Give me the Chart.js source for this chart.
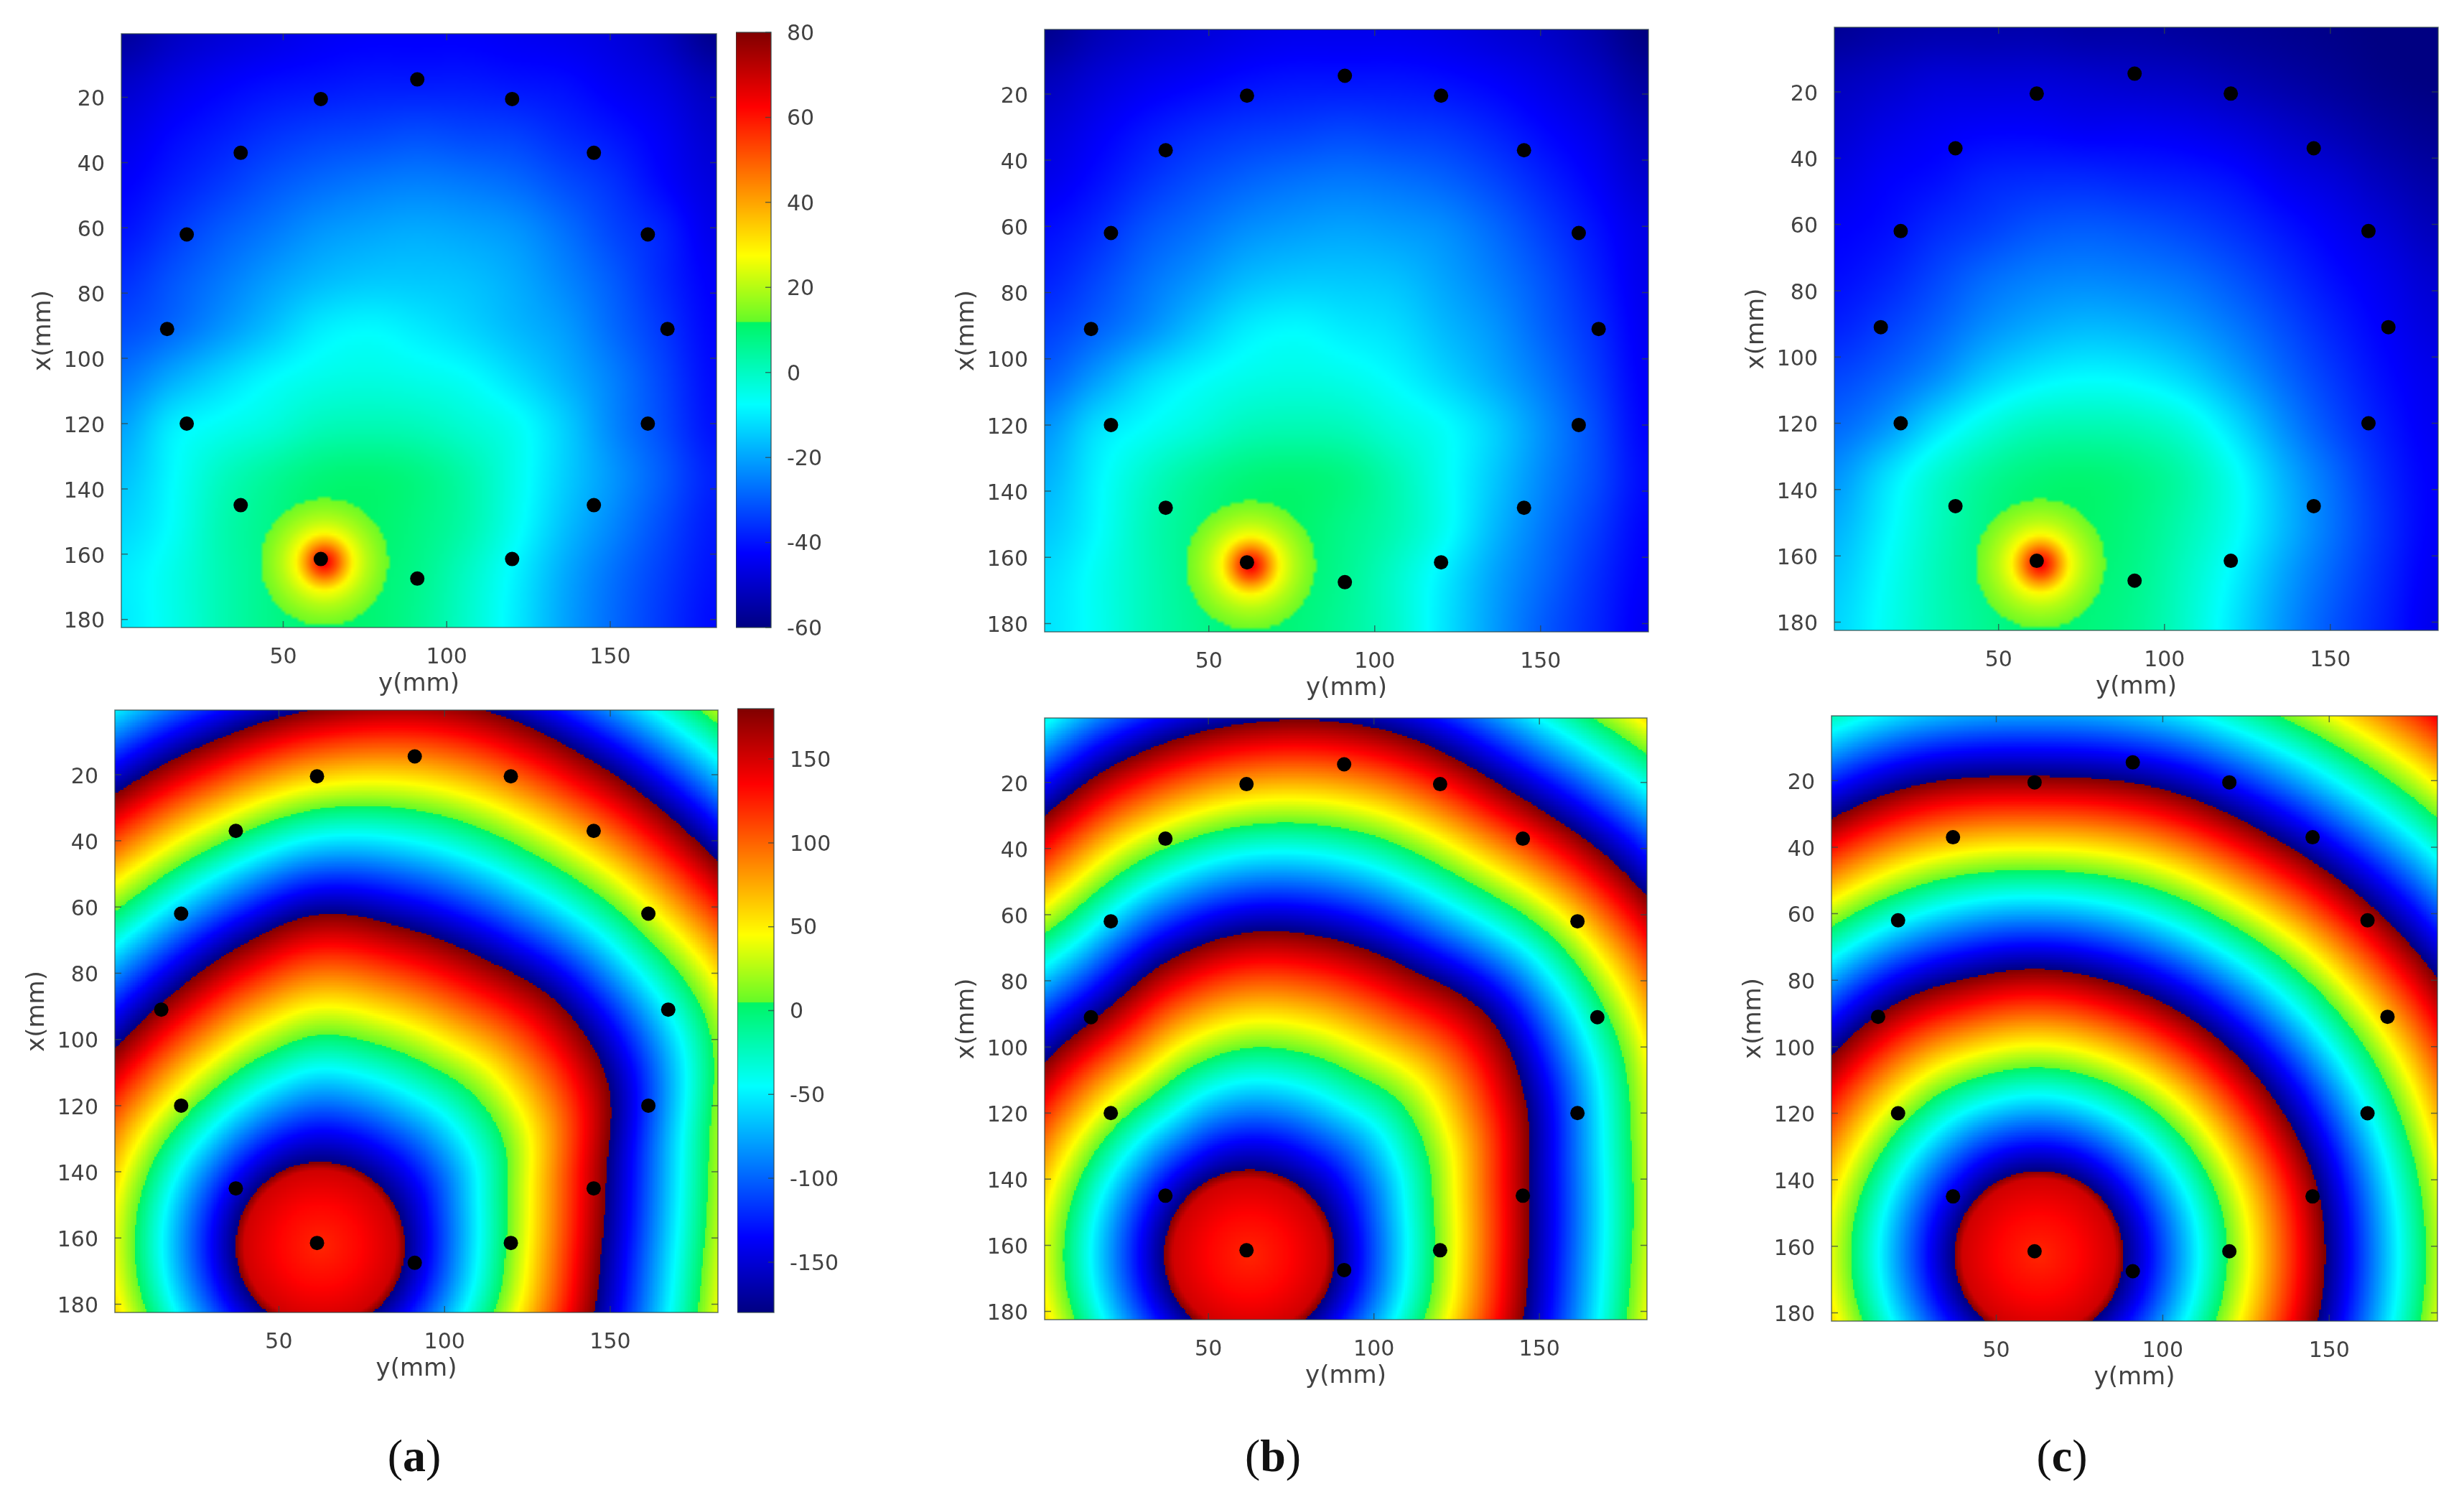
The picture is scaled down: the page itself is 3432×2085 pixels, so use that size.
<!DOCTYPE html>
<html>
<head>
<meta charset="utf-8">
<title>Amplitude and phase maps</title>
<script src="https://cdn.jsdelivr.net/npm/chart.js@4/dist/chart.umd.js"></script>
<style>
  html, body { margin: 0; padding: 0; background: #fff; }
  #page { position: relative; width: 3432px; height: 2085px; overflow: hidden; }
  #page canvas { position: absolute; }
  .tag { position: absolute; top: 1990px; width: 200px; text-align: center; color: #111;
         font: 64px "Liberation Serif", serif; line-height: 76px; }
</style>
</head>
<body>
<div id="page"></div>
<script>
// sensors as [y, x] in mm
const sensorY = [91, 61.5, 120, 37, 145, 20.5, 161.5, 14.5, 167.5, 20.5, 161.5, 37, 145, 61.5, 120, 91];
const sensorX = [14.5, 20.5, 20.5, 37, 37, 62, 62, 91, 91, 120, 120, 145, 145, 161.5, 161.5, 167.5];

const ticksY = [50, 100, 150];
const ticksX = [20, 40, 60, 80, 100, 120, 140, 160, 180];
const ticksAmpBar = [-60, -40, -20, 0, 20, 40, 60, 80];
const ticksPhaseBar = [-150, -100, -50, 0, 50, 100, 150];

// amplitude (top row), dB at grid nodes: rows are x, columns are y
const ampNodes = [1, 16, 31, 46, 61, 76, 91, 106, 121, 136, 151, 166, 181];
const ampA = [
  [-56,-51,-48,-46,-44,-43,-43,-43,-44,-45,-47,-51,-58],
  [-50,-46,-43,-41,-40,-39,-39,-39,-40,-41,-44,-47,-52],
  [-46,-42,-39,-36,-34,-33,-32,-33,-34,-37,-40,-44,-49],
  [-43,-39,-35,-31,-28,-26,-25,-26,-28,-32,-36,-42,-47],
  [-40,-35,-30,-26,-22,-20,-19,-20,-22,-27,-33,-38,-45],
  [-36,-31,-26,-21,-17,-15,-15,-16,-19,-24,-30,-37,-43],
  [-32,-28,-22,-16,-10,-8,-10,-13,-17,-21,-28,-35,-42],
  [-26,-19,-13,-8,-5,-4,-5,-7,-12,-18,-25,-33,-41],
  [-20,-10,-6,-3,1,2,1,-2,-6,-14,-24,-32,-40],
  [-16,-8,0,5,9,10,8,3,-5,-14,-22,-30,-38],
  [-13,-7,2,7,11,11,8,3,-6,-16,-24,-32,-39],
  [-10,-5,2,7,11,10,7,0,-9,-19,-27,-34,-40],
  [-10,-5,2,7,10,10,6,-1,-10,-20,-28,-35,-41]
];
const ampB = [
  [-58,-53,-50,-48,-46,-45,-45,-45,-46,-48,-50,-54,-60],
  [-52,-48,-45,-43,-41,-40,-40,-40,-41,-43,-46,-50,-56],
  [-48,-44,-40,-37,-35,-34,-33,-34,-35,-38,-42,-46,-52],
  [-45,-41,-36,-32,-29,-27,-26,-27,-29,-33,-38,-43,-49],
  [-41,-37,-31,-27,-23,-21,-20,-21,-23,-28,-34,-40,-46],
  [-38,-33,-27,-22,-17,-15,-15,-16,-20,-25,-31,-38,-45],
  [-34,-29,-23,-16,-10,-8,-10,-12,-17,-22,-29,-36,-44],
  [-29,-21,-13,-8,-5,-4,-5,-8,-13,-19,-26,-34,-43],
  [-22,-12,-7,-3,1,2,1,-3,-7,-14,-23,-32,-42],
  [-18,-9,-1,5,9,10,8,2,-6,-15,-24,-32,-41],
  [-15,-8,1,7,11,11,7,2,-6,-17,-26,-34,-42],
  [-12,-6,1,7,11,10,6,-1,-10,-20,-28,-36,-43],
  [-11,-6,1,6,10,9,5,-1,-11,-21,-30,-37,-44]
];
const ampC = [
  [-57,-55,-54,-54,-54,-55,-55,-56,-57,-58,-59,-60,-60],
  [-52,-50,-48,-48,-48,-49,-50,-51,-53,-55,-57,-59,-60],
  [-49,-46,-44,-43,-43,-44,-44,-45,-47,-50,-53,-56,-58],
  [-46,-43,-41,-38,-37,-37,-38,-39,-41,-45,-48,-52,-55],
  [-43,-41,-37,-34,-31,-30,-31,-33,-36,-40,-44,-48,-52],
  [-41,-38,-33,-28,-25,-24,-25,-27,-31,-36,-41,-45,-49],
  [-38,-34,-29,-23,-19,-17,-18,-21,-26,-32,-38,-43,-47],
  [-33,-29,-23,-15,-10,-8,-9,-13,-20,-28,-35,-41,-45],
  [-28,-22,-12,-4,1,2,1,-3,-12,-23,-32,-39,-44],
  [-22,-12,-2,5,9,10,8,3,-6,-18,-28,-37,-43],
  [-18,-9,0,7,11,11,8,2,-6,-17,-27,-36,-43],
  [-15,-7,1,7,11,10,7,0,-9,-20,-29,-37,-44],
  [-13,-6,1,6,10,9,6,-1,-11,-22,-31,-38,-45]
];

// hot spot around the source, dB against distance in mm
const peakCentre = [62.6, 162.4];
const peakRadii = [0, 4, 6, 9, 13, 17, 19.5, 19.6];
const peakDb = [66, 50, 40, 27, 20, 15, 12.6, 0];

// phase (bottom row): along each ray from the source, the radius in mm where
// the unwrapped phase reaches each of phaseLevels. 0 deg points to +y, 90 deg to -x
const rayAngles = [0, 15, 30, 45, 60, 75, 90, 105, 120, 135, 150, 165, 180, 195, 210, 225, 240, 255, 270, 285, 300, 315, 330, 345];
const coreRadii = [0, 12, 23];
const corePhase = [122, 134, 152];
const phaseLevels = [180, 540, 900, 1260];

const sourceA = [62.5, 162.5];
const ringsA = [
  [25.5,25.5,25.5,25.5,25.5,25.5,25.5,25.5,25.5,25.5,25.5,25.5,25.5,25.5,25.5,25.5,25.5,25.5,25.5,25.5,25.5,25.5,25.5,25.5],
  [85,89.5,100,102.7,100,99.5,100.3,93.8,88.4,86,86,85.5,85,85,85,85,85,85,85,85,85,85,85,85],
  [145,152,168,167,168,169,162.5,154.5,148,146,146,146,146,145,145,145,145,145,145,145,145,145,145,145],
  [205,212,228,227,228,229,222,214,208,206,206,206,206,205,205,205,205,205,205,205,205,205,205,205]
];
const sourceB = [62.4, 163];
const ringsB = [
  [25.8,25.8,25.8,25.8,25.8,25.8,25.8,25.8,25.8,25.8,25.8,25.8,25.8,25.8,25.8,25.8,25.8,25.8,25.8,25.8,25.8,25.8,25.8,25.8],
  [84.4,87.5,96,102,99.3,98.9,97.6,92.5,86,85,85,85,85,85,85,85,85,85,85,85,85,85,85,85],
  [145,150,160,162,161,164,161,154,144,145,145,145,145,145,145,145,145,145,145,145,145,145,145,145],
  [205,210,222,224,223,226,223,214,204,205,205,205,205,205,205,205,205,205,205,205,205,205,205,205]
];
const sourceC = [62.8, 162.7];
const ringsC = [
  [25.4,25.4,25.4,25.4,25.4,25.4,25.4,25.4,25.4,25.4,25.4,25.4,25.4,25.4,25.4,25.4,25.4,25.4,25.4,25.4,25.4,25.4,25.4,25.4],
  [86,86,85,84.5,84.5,85,86,86,87,86.5,86,86,86,86,86,86,86,86,86,86,86,86,86,86],
  [145,145,146,145,144,145,144,146,145,145,145,145,145,145,145,145,145,145,145,145,145,145,145,145],
  [209,209,209,209,209,209,209,209,209,209,209,209,209,209,209,209,209,209,209,209,209,209,209,209]
];

// colormap of the colorbars: jet with the jump just above the middle
const cmapStops = [0, 0.125, 0.375, 0.513, 0.5135, 0.625, 0.875, 1];
const cmapColors = [[0,0,130],[0,0,255],[0,255,255],[0,245,100],[100,250,40],[255,255,0],[255,0,0],[128,0,0]];

const tickFont = { family: 'DejaVu Sans', size: 30 };
const titleFont = { family: 'DejaVu Sans', size: 34 };
const inkColor = '#424242';
const frameColor = 'rgba(50,70,70,0.75)';

function colorAt(t) {
  t = Math.max(0, Math.min(1, t));
  let i = 0;
  while (i < cmapStops.length - 2 && t > cmapStops[i + 1]) i++;
  const f = (t - cmapStops[i]) / (cmapStops[i + 1] - cmapStops[i]);
  const a = cmapColors[i], b = cmapColors[i + 1];
  return [a[0] + (b[0] - a[0]) * f, a[1] + (b[1] - a[1]) * f, a[2] + (b[2] - a[2]) * f];
}

function lookup(xs, ys, v) {
  let i = 0;
  while (i < xs.length - 2 && v > xs[i + 1]) i++;
  return ys[i] + (ys[i + 1] - ys[i]) * (v - xs[i]) / (xs[i + 1] - xs[i]);
}

function catmull(a, b, c, d, t) {
  return 0.5 * (2 * b + (c - a) * t + (2 * a - 5 * b + 4 * c - d) * t * t + (3 * b - a - 3 * c + d) * t * t * t);
}

// smooth reading of a table between its nodes, like shading interp
function tableAt(table, y, x) {
  const n = ampNodes.length;
  const step = ampNodes[1] - ampNodes[0];
  const u = Math.max(0, Math.min(n - 1.001, (y - ampNodes[0]) / step));
  const v = Math.max(0, Math.min(n - 1.001, (x - ampNodes[0]) / step));
  const iu = Math.floor(u), iv = Math.floor(v);
  const vals = [];
  for (let r = iv - 1; r <= iv + 2; r++) {
    const row = table[Math.max(0, Math.min(n - 1, r))];
    const col = k => row[Math.max(0, Math.min(n - 1, k))];
    vals.push(catmull(col(iu - 1), col(iu), col(iu + 1), col(iu + 2), u - iu));
  }
  return catmull(vals[0], vals[1], vals[2], vals[3], v - iv);
}

function ampAt(table) {
  return (y, x) => {
    // the field stays under the colour jump outside the hot spot
    const base = Math.min(11.5, tableAt(table, y, x));
    const r = Math.hypot(y - peakCentre[0], x - peakCentre[1]);
    const value = r < peakRadii[peakRadii.length - 1] ? Math.max(base, lookup(peakRadii, peakDb, r)) : base;
    return (value + 60) / 140;
  };
}

function phaseAt(source, rings) {
  const n = rayAngles.length;
  return (y, x) => {
    const dx = y - source[0], dy = source[1] - x;
    const r = Math.hypot(dx, dy);
    const deg = (Math.atan2(dy, dx) * 180 / Math.PI + 360) % 360;
    const k = Math.floor(deg / 15) % n;
    const f = deg / 15 - Math.floor(deg / 15);
    const radii = coreRadii.slice();
    const levels = corePhase.slice();
    rings.forEach((ring, i) => {
      radii.push(catmull(ring[(k + n - 1) % n], ring[k], ring[(k + 1) % n], ring[(k + 2) % n], f));
      levels.push(phaseLevels[i]);
    });
    const phase = lookup(radii, levels, r);
    const wrapped = (((phase + 180) % 360) + 360) % 360;
    return wrapped / 360;
  };
}

// draws the map as an image placed through the chart's own scales
function heatPlugin(field, cells, smooth) {
  const off = document.createElement('canvas');
  off.width = cells;
  off.height = cells;
  const octx = off.getContext('2d');
  const img = octx.createImageData(cells, cells);
  const size = 182 / cells;
  for (let j = 0; j < cells; j++) {
    for (let i = 0; i < cells; i++) {
      const c = colorAt(field(0.5 + (i + 0.5) * size, 0.5 + (j + 0.5) * size));
      const p = (j * cells + i) * 4;
      img.data[p] = c[0];
      img.data[p + 1] = c[1];
      img.data[p + 2] = c[2];
      img.data[p + 3] = 255;
    }
  }
  octx.putImageData(img, 0, 0);
  return {
    id: 'heat',
    beforeDatasetsDraw(chart) {
      const ctx = chart.ctx, sx = chart.scales.x, sy = chart.scales.y;
      const left = sx.getPixelForValue(0.5), right = sx.getPixelForValue(182.5);
      const top = sy.getPixelForValue(0.5), bottom = sy.getPixelForValue(182.5);
      ctx.save();
      ctx.imageSmoothingEnabled = smooth;
      ctx.drawImage(off, left, top, right - left, bottom - top);
      ctx.strokeStyle = frameColor;
      ctx.lineWidth = 1.5;
      ctx.strokeRect(left, top, right - left, bottom - top);
      ctx.beginPath();
      sx.ticks.forEach(t => {
        const px = sx.getPixelForValue(t.value);
        ctx.moveTo(px, bottom); ctx.lineTo(px, bottom - 9);
        ctx.moveTo(px, top); ctx.lineTo(px, top + 9);
      });
      sy.ticks.forEach(t => {
        const py = sy.getPixelForValue(t.value);
        ctx.moveTo(left, py); ctx.lineTo(left + 9, py);
        ctx.moveTo(right, py); ctx.lineTo(right - 9, py);
      });
      ctx.stroke();
      ctx.restore();
    }
  };
}

const barPlugin = {
  id: 'bar',
  beforeDatasetsDraw(chart) {
    const ctx = chart.ctx, s = chart.scales.y, a = chart.chartArea;
    ctx.save();
    for (let py = Math.floor(a.top); py < a.bottom; py++) {
      const t = (s.getValueForPixel(py + 0.5) - s.min) / (s.max - s.min);
      const c = colorAt(t);
      ctx.fillStyle = `rgb(${c[0]},${c[1]},${c[2]})`;
      ctx.fillRect(a.left, py, a.right - a.left, 1);
    }
    ctx.strokeStyle = frameColor;
    ctx.lineWidth = 1.5;
    ctx.strokeRect(a.left, a.top, a.right - a.left, a.bottom - a.top);
    ctx.beginPath();
    s.ticks.forEach(t => {
      const py = s.getPixelForValue(t.value);
      ctx.moveTo(a.right, py); ctx.lineTo(a.right - 8, py);
    });
    ctx.stroke();
    ctx.restore();
  }
};

function addCanvas(left, top, width, height) {
  const c = document.createElement('canvas');
  c.width = width;
  c.height = height;
  c.style.left = left + 'px';
  c.style.top = top + 'px';
  document.getElementById('page').appendChild(c);
  return c;
}

function setTicks(values) {
  return scale => { scale.ticks = values.map(v => ({ value: v })); };
}

function noScalePadding(s) {
  s.paddingTop = 0;
  s.paddingBottom = 0;
  s.paddingLeft = 0;
  s.paddingRight = 0;
}

// box is the plot rectangle [left, top, right, bottom] in page pixels
function panel(box, heat) {
  const axisW = 128, axisH = 100, pad = 12;
  const canvas = addCanvas(box[0] - axisW, box[1] - pad, box[2] - box[0] + axisW + pad, box[3] - box[1] + axisH + pad);
  const points = sensorY.map((y, i) => ({ x: y, y: sensorX[i] }));
  new Chart(canvas, {
    type: 'scatter',
    data: { datasets: [{ data: points, backgroundColor: '#000', borderWidth: 0, pointRadius: 10, pointHoverRadius: 10 }] },
    options: {
      responsive: false,
      animation: false,
      events: [],
      layout: { padding: { top: pad, right: pad, left: 0, bottom: 0 } },
      plugins: { legend: { display: false }, tooltip: { enabled: false } },
      scales: {
        x: {
          type: 'linear', min: 0.5, max: 182.5,
          grid: { display: false }, border: { display: false },
          afterBuildTicks: setTicks(ticksY),
          afterFit(s) { s.height = axisH; noScalePadding(s); },
          ticks: { font: tickFont, color: inkColor, padding: 16, autoSkip: false, maxRotation: 0 },
          title: { display: true, text: 'y(mm)', font: titleFont, color: inkColor, padding: 0 }
        },
        y: {
          type: 'linear', reverse: true, min: 0.5, max: 182.5,
          grid: { display: false }, border: { display: false },
          afterBuildTicks: setTicks(ticksX),
          afterFit(s) { s.width = axisW; noScalePadding(s); },
          ticks: { font: tickFont, color: inkColor, padding: 15, autoSkip: false, labelOffset: 4 },
          title: { display: true, text: 'x(mm)', font: titleFont, color: inkColor, padding: 0 }
        }
      }
    },
    plugins: [heat]
  });
}

function colorbar(box, min, max, values) {
  const axisW = 100, pad = 16;
  const canvas = addCanvas(box[0], box[1] - pad, box[2] - box[0] + axisW, box[3] - box[1] + pad * 2);
  new Chart(canvas, {
    type: 'scatter',
    data: { datasets: [{ data: [] }] },
    options: {
      responsive: false,
      animation: false,
      events: [],
      layout: { padding: { top: pad, bottom: pad, left: 0, right: 0 } },
      plugins: { legend: { display: false }, tooltip: { enabled: false } },
      scales: {
        x: { display: false, min: 0, max: 1 },
        y: {
          position: 'right', min: min, max: max,
          grid: { display: false }, border: { display: false },
          afterBuildTicks: setTicks(values),
          afterFit(s) { s.width = axisW; noScalePadding(s); },
          ticks: { font: tickFont, color: inkColor, padding: 14, autoSkip: false, labelOffset: 3 }
        }
      }
    },
    plugins: [barPlugin]
  });
}

panel([169, 47, 998, 874], heatPlugin(ampAt(ampA), 182, true));
panel([1455, 41, 2296, 880], heatPlugin(ampAt(ampB), 182, true));
panel([2555, 38, 3396, 878], heatPlugin(ampAt(ampC), 182, true));
panel([160, 989, 1000, 1828], heatPlugin(phaseAt(sourceA, ringsA), 364, false));
panel([1455, 1000, 2294, 1838], heatPlugin(phaseAt(sourceB, ringsB), 364, false));
panel([2551, 997, 3395, 1840], heatPlugin(phaseAt(sourceC, ringsC), 364, false));
colorbar([1025, 45, 1074, 874], -60, 80, ticksAmpBar);
colorbar([1027, 987, 1078, 1828], -180, 180, ticksPhaseBar);

[['a', 577], ['b', 1773], ['c', 2872]].forEach(tag => {
  const el = document.createElement('div');
  el.className = 'tag';
  el.style.left = (tag[1] - 100) + 'px';
  el.innerHTML = '(<b>' + tag[0] + '</b>)';
  document.getElementById('page').appendChild(el);
});
</script>
</body>
</html>
